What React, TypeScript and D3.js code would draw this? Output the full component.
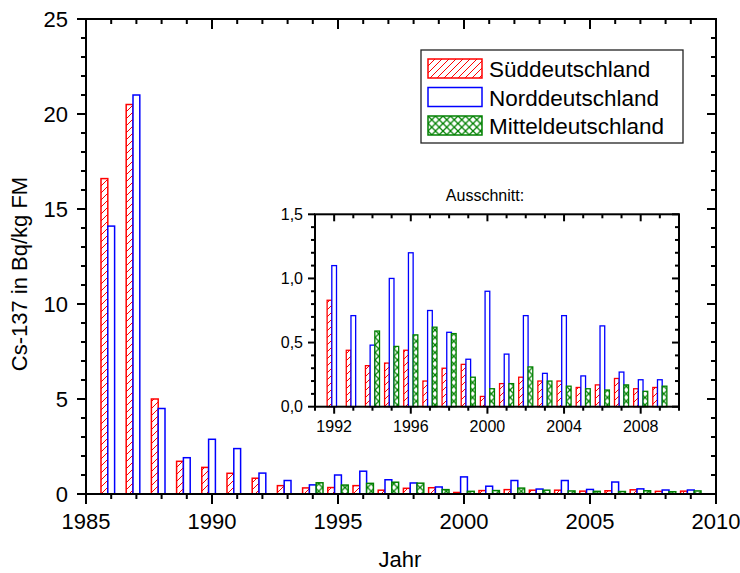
import * as d3 from 'd3';

// years on the x axis
const years = [1986, 1987, 1988, 1989, 1990, 1991, 1992, 1993, 1994, 1995, 1996, 1997,
  1998, 1999, 2000, 2001, 2002, 2003, 2004, 2005, 2006, 2007, 2008, 2009];

// Cs-137 in Bq/kg FM
const sued = [16.6, 20.5, 5.0, 1.72, 1.40, 1.09, 0.83, 0.44, 0.32, 0.34, 0.44, 0.20,
  0.30, 0.33, 0.08, 0.18, 0.23, 0.20, 0.20, 0.15, 0.17, 0.22, 0.14, 0.15];
const nord = [14.1, 21.0, 4.5, 1.91, 2.88, 2.39, 1.10, 0.71, 0.48, 1.00, 1.20, 0.75,
  0.58, 0.37, 0.90, 0.41, 0.71, 0.26, 0.71, 0.24, 0.63, 0.27, 0.21, 0.21];
const mittel = [null, null, null, null, null, null, null, null, 0.59, 0.47, 0.56, 0.62,
  0.57, 0.23, 0.14, 0.18, 0.31, 0.20, 0.16, 0.14, 0.13, 0.17, 0.12, 0.16];

const seriesNames = ['Süddeutschland', 'Norddeutschland', 'Mitteldeutschland'];

const mainXTicks = [1985, 1990, 1995, 2000, 2005, 2010];
const mainYTicks = [0, 5, 10, 15, 20, 25];
const insetXTicks = [1992, 1996, 2000, 2004, 2008];
const insetYTicks = [0, 0.5, 1.0, 1.5];
const insetYLabels = ['0,0', '0,5', '1,0', '1,5'];

const RED = '#ff0000';
const BLUE = '#0000ff';
const GREEN = '#008000';
const FONT = 'Liberation Sans, Arial, sans-serif';

const series = [
  { name: seriesNames[0], values: sued, stroke: RED, fill: 'url(#hatchRed)', off: -1 },
  { name: seriesNames[1], values: nord, stroke: BLUE, fill: '#fff', off: 0 },
  { name: seriesNames[2], values: mittel, stroke: GREEN, fill: 'url(#crossGreen)', off: 1 },
];

function Bars({ x, y, bw, fromYear, sw }: any) {
  return (
    <g>
      {series.map(s =>
        years.map((yr, i) => {
          const v = s.values[i];
          if (v == null || yr < fromYear) return null;
          const x0 = x(yr + s.off * bw - bw / 2);
          const x1 = x(yr + s.off * bw + bw / 2);
          return (
            <rect key={s.name + yr} x={x0} y={y(v)} width={x1 - x0} height={y(0) - y(v)}
              fill={s.fill} stroke={s.stroke} strokeWidth={sw} />
          );
        })
      )}
    </g>
  );
}

export default function App() {
  const x = d3.scaleLinear().domain([1985, 2010]).range([86, 716]);
  const y = d3.scaleLinear().domain([0, 25]).range([494, 19]);
  const xi = d3.scaleLinear().domain([1991, 2010]).range([315, 679]);
  const yi = d3.scaleLinear().domain([0, 1.5]).range([406.7, 214.3]);

  const xMinor = d3.range(1985, 2011);
  const yMinor = d3.range(0, 26);
  const xiMinor = d3.range(1991, 2011);
  const yiMinor = d3.range(0, 16).map(d => d / 10);

  const [mx0, mx1] = x.range();
  const [my0, my1] = y.range();
  const [ix0, ix1] = xi.range();
  const [iy0, iy1] = yi.range();

  return (
    <svg width={740} height={573} style={{ position: 'absolute', left: 0, top: 0, background: '#fff' }}
      fontFamily={FONT}>
      <defs>
        <pattern id="hatchRed" patternUnits="userSpaceOnUse" width={7} height={7}>
          <rect width={7} height={7} fill="#fff" />
          <path d="M0,7 L7,0 M-1,1 L1,-1 M6,8 L8,6" stroke={RED} strokeWidth={1} />
        </pattern>
        <pattern id="crossGreen" patternUnits="userSpaceOnUse" width={7.5} height={7.5}>
          <rect width={7.5} height={7.5} fill="#fff" />
          <path d="M0,0 L7.5,7.5 M0,7.5 L7.5,0" stroke={GREEN} strokeWidth={1.3} />
        </pattern>
      </defs>

      {/* main bars */}
      <Bars x={x} y={y} bw={0.27} fromYear={1985} sw={1.5} />

      {/* main frame + ticks */}
      <rect x={mx0} y={my1} width={mx1 - mx0} height={my0 - my1} fill="none" stroke="#000" strokeWidth={2} />
      {xMinor.map(t => {
        const major = mainXTicks.includes(t);
        const len = major ? 10 : 5;
        return (
          <g key={'mx' + t}>
            <line x1={x(t)} x2={x(t)} y1={my0} y2={my0 + len} stroke="#000" strokeWidth={2} />
            <line x1={x(t)} x2={x(t)} y1={my1} y2={my1 + len} stroke="#000" strokeWidth={2} />
          </g>
        );
      })}
      {yMinor.map(t => {
        const major = mainYTicks.includes(t);
        const len = major ? 9 : 5;
        return (
          <g key={'my' + t}>
            <line x1={mx0 - len} x2={mx0} y1={y(t)} y2={y(t)} stroke="#000" strokeWidth={2} />
            <line x1={mx1 - len} x2={mx1} y1={y(t)} y2={y(t)} stroke="#000" strokeWidth={2} />
          </g>
        );
      })}
      {mainXTicks.map(t => (
        <text key={'mxl' + t} x={x(t)} y={529} textAnchor="middle" fontSize={22}>{t}</text>
      ))}
      {mainYTicks.map(t => (
        <text key={'myl' + t} x={68} y={y(t)} dy="0.35em" textAnchor="end" fontSize={22}>{t}</text>
      ))}
      <text x={400} y={567} textAnchor="middle" fontSize={22}>Jahr</text>
      <text transform="translate(27,274) rotate(-90)" textAnchor="middle" fontSize={22}>Cs-137 in Bq/kg FM</text>

      {/* legend */}
      <rect x={421} y={50} width={262} height={93} fill="#fff" stroke="#222" strokeWidth={1.3} />
      {series.map((s, i) => (
        <g key={'lg' + i} transform={`translate(428,${59 + i * 28.5})`}>
          <rect width={54} height={19} fill={s.fill} stroke={s.stroke} strokeWidth={1.5} />
          <text x={61} y={18} fontSize={22.5}>{s.name}</text>
        </g>
      ))}

      {/* inset */}
      <text x={485} y={201} textAnchor="middle" fontSize={16}>Ausschnitt:</text>
      <rect x={ix0} y={iy1} width={ix1 - ix0} height={iy0 - iy1} fill="#fff" />
      <Bars x={xi} y={yi} bw={0.245} fromYear={1992} sw={1.3} />
      <rect x={ix0} y={iy1} width={ix1 - ix0} height={iy0 - iy1} fill="none" stroke="#000" strokeWidth={2} />
      {xiMinor.map(t => {
        const major = insetXTicks.includes(t);
        const len = major ? 7 : 4;
        return (
          <g key={'ix' + t}>
            <line x1={xi(t)} x2={xi(t)} y1={iy0} y2={iy0 + len} stroke="#000" strokeWidth={2} />
            <line x1={xi(t)} x2={xi(t)} y1={iy1} y2={iy1 + len} stroke="#000" strokeWidth={2} />
          </g>
        );
      })}
      {yiMinor.map(t => {
        const major = insetYTicks.some(m => Math.abs(m - t) < 1e-9);
        const len = major ? 7 : 4;
        return (
          <g key={'iy' + t}>
            <line x1={ix0 - len} x2={ix0} y1={yi(t)} y2={yi(t)} stroke="#000" strokeWidth={2} />
            <line x1={ix1 - len} x2={ix1} y1={yi(t)} y2={yi(t)} stroke="#000" strokeWidth={2} />
          </g>
        );
      })}
      {insetXTicks.map(t => (
        <text key={'ixl' + t} x={xi(t)} y={432} textAnchor="middle" fontSize={16}>{t}</text>
      ))}
      {insetYTicks.map((t, i) => (
        <text key={'iyl' + t} x={303} y={yi(t)} dy="0.35em" textAnchor="end" fontSize={16}>{insetYLabels[i]}</text>
      ))}
    </svg>
  );
}
